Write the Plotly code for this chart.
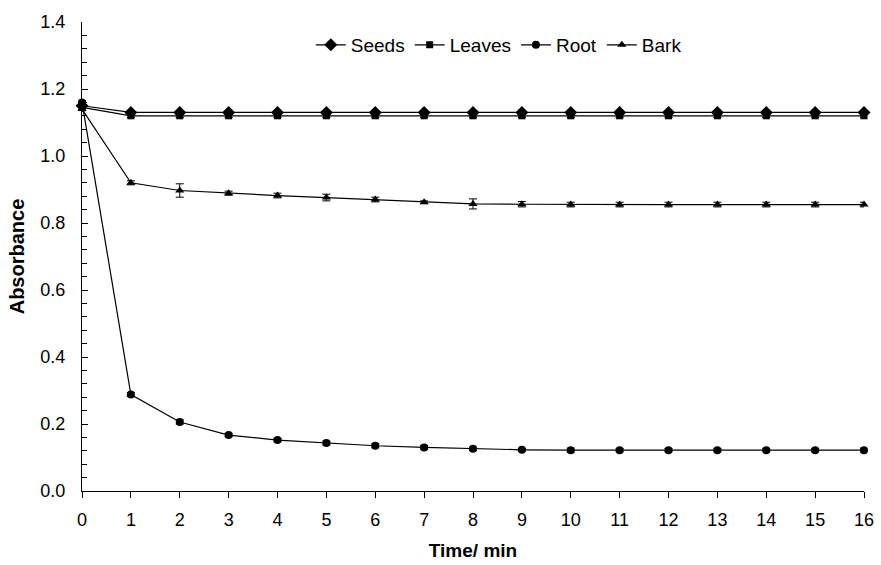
import plotly.graph_objects as go

time = list(range(0, 17))
seeds = [1.15] + [1.13] * 16
leaves = [1.145] + [1.12] * 16
root = [1.16, 0.288, 0.206, 0.167, 0.152, 0.143, 0.135, 0.130, 0.126, 0.123,
        0.122, 0.122, 0.122, 0.122, 0.122, 0.122, 0.122]
bark = [1.14, 0.920, 0.897, 0.889, 0.882, 0.876, 0.870, 0.862, 0.857, 0.856,
        0.855, 0.855, 0.855, 0.855, 0.855, 0.855, 0.855]

seeds_err = [0.005] * 17
leaves_err = [0.005] * 17
root_err = [0.005, 0.006, 0.006, 0.005, 0.005, 0.006, 0.006, 0.006, 0.005, 0.004,
            0.006, 0.005, 0.005, 0.005, 0.005, 0.005, 0.006]
bark_err = [0.005, 0.006, 0.02, 0.006, 0.007, 0.01, 0.007, 0.004, 0.015, 0.008,
            0.007, 0.007, 0.007, 0.007, 0.007, 0.007, 0.007]

series = [
    ("Seeds", seeds, seeds_err, "diamond", 10),
    ("Leaves", leaves, leaves_err, "square", 7),
    ("Root", root, root_err, "circle", 8),
    ("Bark", bark, bark_err, "triangle-up", 8),
]

fig = go.Figure()
for name, vals, err, sym, size in series:
    fig.add_trace(go.Scatter(
        x=time, y=vals, name=name, mode="lines+markers",
        line=dict(color="black", width=1.2),
        marker=dict(symbol=sym, size=size, color="black"),
        error_y=dict(type="data", array=err, visible=True, color="black",
                     thickness=1, width=4),
        cliponaxis=False,
    ))

font = "Liberation Sans, Arial, sans-serif"
fig.update_layout(
    width=881, height=565,
    margin=dict(l=82, r=7, t=22, b=69),
    paper_bgcolor="white", plot_bgcolor="white",
    font=dict(family=font, size=18, color="black"),
    showlegend=True,
    legend=dict(orientation="h", x=0.533, y=0.951, xanchor="center", yanchor="middle",
                font=dict(size=19), bgcolor="rgba(0,0,0,0)", itemwidth=30,
                tracegroupgap=0),
    xaxis=dict(
        range=[0, 16], tickmode="linear", tick0=0, dtick=1,
        showgrid=False, zeroline=False, showline=True, linecolor="black", linewidth=1,
        ticks="outside", ticklen=6, tickcolor="black", ticklabelstandoff=6,
        ticklabeloverflow="allow",
        title=dict(text="<b>Time/ min</b>", font=dict(size=19), standoff=15),
        tickfont=dict(size=18),
    ),
    yaxis=dict(
        range=[0, 1.4], tickmode="linear", tick0=0, dtick=0.2, tickformat=".1f",
        showgrid=False, zeroline=False, showline=True, linecolor="black", linewidth=1,
        ticks="inside", ticklen=6, tickcolor="black", ticklabelstandoff=12,
        minor=dict(dtick=0.04, ticks="inside", ticklen=5, tickcolor="black"),
        title=dict(text="<b>Absorbance</b>", font=dict(size=20), standoff=10),
        tickfont=dict(size=18),
    ),
)

fig.write_html("out.html", config={"displayModeBar": False},
               post_script="document.body.style.margin='0';document.body.style.overflow='hidden';")
